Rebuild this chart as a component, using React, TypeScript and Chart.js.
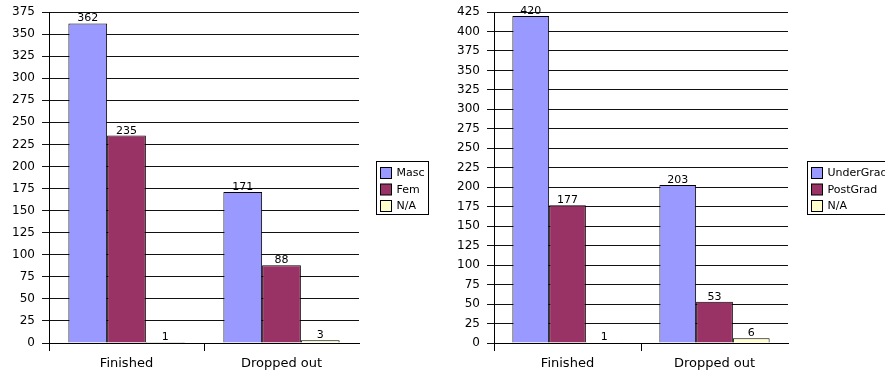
import React, { useEffect, useRef } from "react";
import { Chart, registerables } from "chart.js";

Chart.register(...registerables);

const categories = ["Finished", "Dropped out"];

const genderLabels = ["Masc", "Fem", "N/A"];
const mascValues = [362, 171];
const femValues = [235, 88];
const naGenderValues = [1, 3];
const genderTicksMax = 375;

const levelLabels = ["UnderGrad", "PostGrad", "N/A"];
const underGradValues = [420, 203];
const postGradValues = [177, 53];
const naLevelValues = [1, 6];
const levelTicksMax = 425;

const tickStep = 25;
const seriesColors = ["#9999ff", "#993366", "#ffffcc"];
const FONT = "'DejaVu Sans', sans-serif";

const valueLabelPlugin = {
  id: "valueLabels",
  afterDatasetsDraw(chart: any) {
    const ctx = chart.ctx;
    ctx.save();
    ctx.font = `11px ${FONT}`;
    ctx.fillStyle = "#000";
    ctx.textAlign = "center";
    ctx.textBaseline = "alphabetic";
    chart.data.datasets.forEach((ds: any, i: number) => {
      const meta = chart.getDatasetMeta(i);
      meta.data.forEach((el: any, j: number) => {
        ctx.fillText(String(ds.data[j]), el.x, el.y - 2);
      });
    });
    ctx.restore();
  },
};

const boxLegendPlugin = {
  id: "boxLegend",
  afterDraw(chart: any, _args: any, opts: any) {
    const ctx = chart.ctx;
    const x0 = opts.x;
    const top = 161.5;
    const rowH = 16.5;
    const sw = 11;
    ctx.save();
    ctx.font = `11px ${FONT}`;
    let maxW = 0;
    chart.data.datasets.forEach((ds: any) => {
      maxW = Math.max(maxW, ctx.measureText(ds.label).width);
    });
    const boxW = 4 + sw + 5 + maxW + 4;
    const boxH = 53;
    ctx.strokeStyle = "#000";
    ctx.lineWidth = 1;
    ctx.fillStyle = "#fff";
    ctx.fillRect(x0, top, boxW, boxH);
    ctx.strokeRect(x0, top, boxW, boxH);
    chart.data.datasets.forEach((ds: any, i: number) => {
      const sy = top + 6 + i * rowH;
      ctx.fillStyle = ds.backgroundColor;
      ctx.fillRect(x0 + 4, sy, sw, sw);
      ctx.strokeStyle = "#000";
      ctx.strokeRect(x0 + 4, sy, sw, sw);
      ctx.fillStyle = "#000";
      ctx.textAlign = "left";
      ctx.textBaseline = "middle";
      ctx.fillText(ds.label, x0 + 4 + sw + 5, sy + sw / 2 + 0.5);
    });
    ctx.restore();
  },
};

type Props = {
  width: number;
  labels: string[];
  values: number[][];
  max: number;
  axisWidth: number;
  padRight: number;
  legendX: number;
};

function BarChart({ width, labels, values, max, axisWidth, padRight, legendX }: Props) {
  const ref = useRef<HTMLCanvasElement | null>(null);
  useEffect(() => {
    if (!ref.current) return;
    const chart = new Chart(ref.current, {
      type: "bar",
      data: {
        labels: categories,
        datasets: labels.map((label, i) => ({
          label,
          data: values[i],
          backgroundColor: seriesColors[i],
          borderColor: "#000",
          borderWidth: 1,
          categoryPercentage: 0.75,
          barPercentage: 1,
        })),
      },
      options: {
        animation: false,
        responsive: false,
        devicePixelRatio: 1,
        layout: { padding: { top: 12, right: padRight, bottom: 0, left: 0 } },
        plugins: {
          legend: { display: false },
          tooltip: { enabled: false },
          boxLegend: { x: legendX },
        } as any,
        scales: {
          x: {
            afterFit: (s: any) => {
              s.height = 32;
            },
            grid: {
              display: true,
              drawOnChartArea: false,
              drawTicks: true,
              tickLength: 8,
              offset: true,
              color: (c: any) => (c.type === "tick" ? "#000" : "rgba(0,0,0,0)"),
            },
            border: { display: true, color: "#000" },
            ticks: { font: { family: FONT, size: 13 }, color: "#000", padding: 5 },
          },
          y: {
            min: 0,
            max,
            afterFit: (s: any) => {
              s.width = axisWidth;
              s.paddingTop = 4;
              s.paddingBottom = 4;
            },
            grid: { color: "#111", tickLength: 7, lineWidth: 1 },
            border: { display: true, color: "#000" },
            ticks: {
              stepSize: tickStep,
              font: { family: FONT, size: 12 },
              color: "#000",
              padding: 7,
            },
          },
        },
      },
      plugins: [valueLabelPlugin, boxLegendPlugin],
    } as any);
    return () => chart.destroy();
  }, []);
  return <canvas ref={ref} width={width} height={375} style={{ display: "block" }} />;
}

export default function App() {
  return (
    <div
      style={{
        position: "fixed",
        top: 0,
        left: 0,
        width: 885,
        height: 375,
        display: "flex",
        background: "#fff",
        overflow: "hidden",
      }}
    >
      <BarChart
        width={440}
        labels={genderLabels}
        values={[mascValues, femValues, naGenderValues]}
        max={genderTicksMax}
        axisWidth={49}
        padRight={81}
        legendX={376.5}
      />
      <BarChart
        width={445}
        labels={levelLabels}
        values={[underGradValues, postGradValues, naLevelValues]}
        max={levelTicksMax}
        axisWidth={54}
        padRight={97}
        legendX={367.5}
      />
    </div>
  );
}
